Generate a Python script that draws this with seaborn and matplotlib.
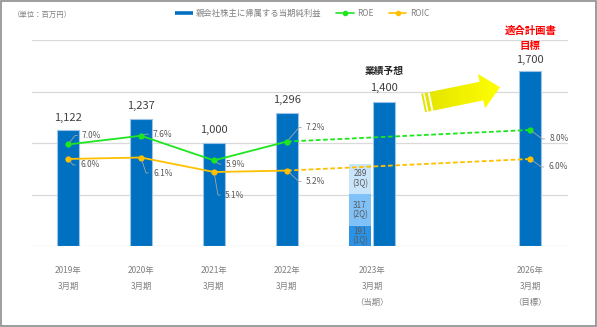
import numpy as np
import matplotlib
matplotlib.use("Agg")
import matplotlib.pyplot as plt
import seaborn as sns
from matplotlib.lines import Line2D
from matplotlib.path import Path
from matplotlib.patches import PathPatch, Rectangle

# ---------------- data ----------------
period_labels = ["2019年\n3月期", "2020年\n3月期", "2021年\n3月期",
                 "2022年\n3月期", "2023年\n3月期\n（当期）", "2026年\n3月期\n（目標）"]
net_income = [1122, 1237, 1000, 1296]          # results FY2019-FY2022 (百万円)
forecast_2023 = 1400                             # 業績予想
target_2026 = 1700                               # 適合計画書 目標
quarter_names = ["1Q", "2Q", "3Q"]
quarter_income = [191, 317, 289]                 # FY2023 cumulative by quarter
roe = [7.0, 7.6, 5.9, 7.2, 8.0]                  # FY2019-2022, FY2026 target
roic = [6.0, 6.1, 5.1, 5.2, 6.0]
legend_labels = ["親会社株主に帰属する当期純利益", "ROE", "ROIC"]

# ---------------- layout ----------------
x_actual = [0, 3, 6, 9]
x_quarters = 12
x_forecast = 13
x_target = 19
tick_pos = [0, 3, 6, 9, 12.5, 19]
bar_w = 0.92

BLUE = "#0070C0"
EDGE = "#9DC3E6"
Q_COLORS = ["#2A93E8", "#80C2F7", "#C9E5FB"]
GREEN = "#1EE61E"
GOLD = "#FFC000"
GRAY_TXT = "#808080"
DARK_TXT = "#404040"

sns.set_theme(style="white")
plt.rcParams["font.family"] = ["Noto Sans CJK JP", "DejaVu Sans"]

W, H = 597, 327
fig = plt.figure(figsize=(W / 100, H / 100), dpi=100)
fig.patch.set_facecolor("white")
ax = fig.add_axes([32 / W, 1 - 246 / H, 536 / W, 206 / H])

# main bars: results, forecast and target
bar_x = x_actual + [x_forecast, x_target]
bar_y = net_income + [forecast_2023, target_2026]
sns.barplot(x=bar_x, y=bar_y, native_scale=True, width=bar_w / 3,
            color=BLUE, saturation=1, edgecolor=EDGE, linewidth=0.8,
            errorbar=None, ax=ax)

# FY2023 quarterly stack (drawn from the top segment down)
cum = np.cumsum(quarter_income)
for i in reversed(range(len(quarter_income))):
    sns.barplot(x=[x_quarters], y=[cum[i]], native_scale=True, width=bar_w,
                color=Q_COLORS[i], saturation=1, linewidth=0,
                errorbar=None, ax=ax)
for i, (q, name) in enumerate(zip(quarter_income, quarter_names)):
    ax.text(x_quarters, cum[i] - q / 2, f"{q}\n({name})", ha="center", va="center",
            fontsize=5.8, color="#595959", linespacing=1.1, zorder=5)

# ROE / ROIC on a secondary scale
ax2 = ax.twinx()
ax2.set_ylim(0, 14.2)
line_x = x_actual + [x_target]
for series, col in [(roe, GREEN), (roic, GOLD)]:
    sns.lineplot(x=x_actual, y=series[:4], color=col, marker="o", markersize=4.5,
                 markeredgewidth=0, linewidth=1.3, ax=ax2)
    sns.lineplot(x=[x_actual[-1], x_target], y=[series[3], series[4]], color=col,
                 linestyle=(0, (2.6, 1.4)), marker="o", markevery=[1], markersize=4.5,
                 markeredgewidth=0, linewidth=1.3, ax=ax2)
ax2.axis("off")

ax.set_xlim(-1.48, 20.55)
ax2.set_xlim(-1.48, 20.55)
ax.set_ylim(0, 2000)
ax.set_yticks([0, 500, 1000, 1500, 2000])
ax.grid(axis="y", color="#D9D9D9", linewidth=0.9)
ax.grid(axis="x", visible=False)
ax.set_axisbelow(True)
for s in ax.spines.values():
    s.set_visible(False)
ax.tick_params(axis="y", left=False, right=False, labelleft=False, labelright=False)
ax.set_xticks(tick_pos)
ax.set_xticklabels(period_labels)
ax.tick_params(axis="x", length=0, pad=14.5, labelsize=6, labelcolor=GRAY_TXT)
for t in ax.get_xticklabels():
    t.set_linespacing(2.0)
    t.set_verticalalignment("top")
ax.set_xlabel("")
ax.set_ylabel("")

# bar value labels
for x, v, off in zip(bar_x, bar_y, [12.5, 12.5, 13, 12.5, 13.7, 11]):
    ax.annotate(f"{v:,}", xy=(x, v), xytext=(0, off), textcoords="offset pixels",
                ha="center", va="center", fontsize=8, color=DARK_TXT)
ax.annotate("業績予想", xy=(x_forecast, forecast_2023), xytext=(0, 31),
            textcoords="offset pixels", ha="center", va="center",
            fontsize=7, fontweight="bold", color="#262626")
ax.annotate("適合計画書", xy=(x_target, target_2026), xytext=(0, 40.3),
            textcoords="offset pixels", ha="center", va="center",
            fontsize=7.5, fontweight="bold", color="#FF0000")
ax.annotate("目標", xy=(x_target, target_2026), xytext=(0, 25.3),
            textcoords="offset pixels", ha="center", va="center",
            fontsize=7.5, fontweight="bold", color="#FF0000")

# percentage labels with leader lines (offsets in pixels, picture y pointing down)
roe_off = [(14, -9), (12, -1.6), (12, 3.7), (19, -14), (19, 9)]
roic_off = [(12, 6), (12, 15.5), (11, 23), (19, 11), (18, 8)]
for series, offs in [(roe, roe_off), (roic, roic_off)]:
    for x, v, (dx, dy) in zip(line_x, series, offs):
        ang = np.degrees(np.arctan2(-dy, dx - 7))
        ax2.annotate(f"{v:.1f}%", xy=(x, v), xytext=(dx, -dy), textcoords="offset pixels",
                     ha="left", va="center", fontsize=6, color="#595959",
                     arrowprops=dict(arrowstyle="-", color="#A6A6A6", lw=0.6,
                                     shrinkA=1, shrinkB=2, relpos=(0, 0.5),
                                     connectionstyle=f"angle,angleA=0,angleB={ang:.1f},rad=0"))

# legend and unit note
handles = [Line2D([], [], color=BLUE, lw=2.6, solid_capstyle="butt"),
           Line2D([], [], color=GREEN, lw=1.2, marker="o", markersize=4, markeredgewidth=0),
           Line2D([], [], color=GOLD, lw=1.2, marker="o", markersize=4, markeredgewidth=0)]
fig.legend(handles, legend_labels, loc="center", bbox_to_anchor=(302 / W, 1 - 13.5 / H),
           ncol=3, frameon=False, fontsize=6, handlelength=2.1, handletextpad=0.4,
           columnspacing=1.8, labelcolor=GRAY_TXT)
fig.text(12.7 / W, 1 - 14.7 / H, "（単位：百万円）", fontsize=5.3, color=GRAY_TXT,
         ha="left", va="center")

# overlay in pixel units: striped arrow and outer frame
ov = fig.add_axes([0, 0, 1, 1], zorder=5)
ov.patch.set_alpha(0)
ov.axis("off")

center = np.array([431.5, 101.3])
d = np.array([68.5, -14.0]); d /= np.hypot(*d)
p = np.array([-d[1], d[0]])
def pt(u, v):
    return center + u * d + v * p
body = [pt(0, -9.5), pt(51, -9.5), pt(51, -17.5), pt(70, 0), pt(51, 17.5), pt(51, 9.5), pt(0, 9.5)]
stripe1 = [pt(-8.5, -9.5), pt(-6.6, -9.5), pt(-6.6, 9.5), pt(-8.5, 9.5)]
stripe2 = [pt(-5.0, -9.5), pt(-2.0, -9.5), pt(-2.0, 9.5), pt(-5.0, 9.5)]
paths = [Path(np.vstack([poly, poly[:1]]), closed=True) for poly in (body, stripe1, stripe2)]
arrow_path = Path.make_compound_path(*paths)
clip = PathPatch(arrow_path, facecolor="none", edgecolor="none")
ov.add_patch(clip)
grad = np.linspace(0, 1, 256)[None, :]
cmap = matplotlib.colors.LinearSegmentedColormap.from_list("yel", ["#E2E200", "#FFFF00"])
im = ov.imshow(grad, extent=[420, 502, 112, 70], cmap=cmap, aspect="auto", interpolation="bilinear")
im.set_clip_path(clip)

ov.add_patch(Rectangle((1.0, 1.0), 594.5, 324.5, fill=False, edgecolor="#8C8C8C", lw=1.2))
ov.set_xlim(0, W)
ov.set_ylim(H, 0)

fig.savefig("out.png", dpi=100)
